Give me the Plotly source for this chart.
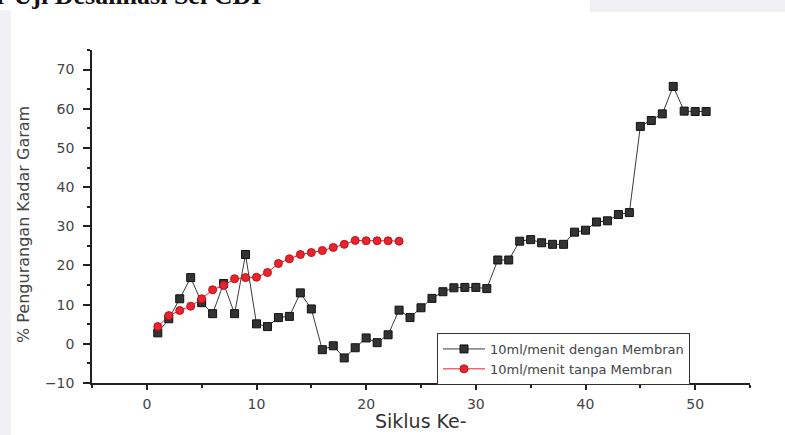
import plotly.graph_objects as go

cycles_membran = list(range(1, 52))
membran = [2.8, 6.4, 11.5, 16.9, 10.5, 7.7, 15.4, 7.7, 22.8, 5.1,
           4.4, 6.7, 7.0, 13.0, 8.9, -1.5, -0.5, -3.6, -1.0, 1.5,
           0.3, 2.3, 8.6, 6.7, 9.2, 11.6, 13.3, 14.3, 14.4, 14.4,
           14.1, 21.4, 21.4, 26.2, 26.6, 25.8, 25.4, 25.4, 28.5, 29.0,
           31.1, 31.4, 33.0, 33.5, 55.5, 57.0, 58.7, 65.7, 59.4, 59.3,
           59.3]

cycles_tanpa = list(range(1, 24))
tanpa = [4.4, 7.2, 8.5, 9.6, 11.5, 13.8, 14.9, 16.6, 16.9, 17.0,
         18.2, 20.5, 21.7, 22.8, 23.3, 23.8, 24.6, 25.4, 26.4, 26.3,
         26.3, 26.3, 26.2]

label_membran = "10ml/menit dengan Membran"
label_tanpa = "10ml/menit tanpa Membran"
x_title = "Siklus Ke-"
y_title = "% Pengurangan Kadar Garam"
page_title = "r Uji Desalinasi Sel CDI"

W, H = 785, 435
L, R, T, B = 92, 35, 50, 52
pw, ph = W - L - R, H - T - B

def px(x):
    return (x - L) / pw

def py(y):
    return (H - B - y) / ph

fig = go.Figure()
fig.add_trace(go.Scatter(
    x=cycles_membran, y=membran, mode="lines+markers", name=label_membran,
    line=dict(color="#3a3a3a", width=1),
    marker=dict(symbol="square", size=8, color="#333333",
                line=dict(color="#111111", width=1)),
))
fig.add_trace(go.Scatter(
    x=cycles_tanpa, y=tanpa, mode="lines+markers", name=label_tanpa,
    line=dict(color="#e0202a", width=1),
    marker=dict(symbol="circle", size=8, color="#e8252e",
                line=dict(color="#c01018", width=1)),
))

axis_font = dict(family="DejaVu Sans", size=14, color="#444444")
fig.update_xaxes(
    range=[-5, 55], tickvals=[0, 10, 20, 30, 40, 50],
    showgrid=False, zeroline=False, showline=True, linecolor="#222222",
    linewidth=1.5, ticks="outside", ticklen=5, tickwidth=1.5, tickcolor="#222222",
    minor=dict(tickvals=[-5, 5, 15, 25, 35, 45, 55], ticks="outside",
               ticklen=3, tickcolor="#222222", tickwidth=1.5),
    tickfont=axis_font, ticklabelstandoff=2,
)
fig.update_yaxes(
    range=[-10, 75], tickvals=[-10, 0, 10, 20, 30, 40, 50, 60, 70],
    showgrid=False, zeroline=False, showline=True, linecolor="#222222",
    linewidth=1.5, ticks="outside", ticklen=7, tickwidth=1.5, tickcolor="#222222",
    minor=dict(tickvals=[-5, 5, 15, 25, 35, 45, 55, 65, 75], ticks="outside",
               ticklen=3, tickcolor="#222222", tickwidth=1.5),
    tickfont=axis_font, ticklabelstandoff=6,
)

fig.update_layout(
    width=W, height=H,
    margin=dict(l=L, r=R, t=T, b=B),
    paper_bgcolor="white", plot_bgcolor="white",
    showlegend=True,
    legend=dict(x=px(437), y=py(333), xanchor="left", yanchor="top",
                bgcolor="white", bordercolor="#333333", borderwidth=1,
                font=dict(family="DejaVu Sans", size=13, color="#444444"),
                tracegroupgap=0, itemwidth=42),
    shapes=[
        dict(type="rect", xref="paper", yref="paper", x0=px(0), x1=px(11),
             y0=py(H), y1=py(10), fillcolor="#f0f0f5", line=dict(width=0), layer="below"),
        dict(type="rect", xref="paper", yref="paper", x0=px(590), x1=px(W),
             y0=py(12), y1=py(0), fillcolor="#f0f0f4", line=dict(width=0), layer="below"),
    ],
    annotations=[
        dict(text="<b>" + page_title + "</b>", xref="paper", yref="paper",
             x=px(-6), y=py(12), xanchor="left", yanchor="bottom", showarrow=False,
             font=dict(family="Liberation Serif", size=26, color="#111111")),
        dict(text=x_title, xref="paper", yref="paper",
             x=px(421), y=py(421), xanchor="center", yanchor="middle", showarrow=False,
             font=dict(family="DejaVu Sans", size=19, color="#333333")),
        dict(text=y_title, xref="paper", yref="paper", textangle=-90,
             x=px(23), y=py(225), xanchor="center", yanchor="middle", showarrow=False,
             font=dict(family="DejaVu Sans", size=16, color="#444444")),
    ],
)

fig.write_html("out.html", config={"displayModeBar": False},
               post_script="document.body.style.margin='0';document.body.style.overflow='hidden';")
